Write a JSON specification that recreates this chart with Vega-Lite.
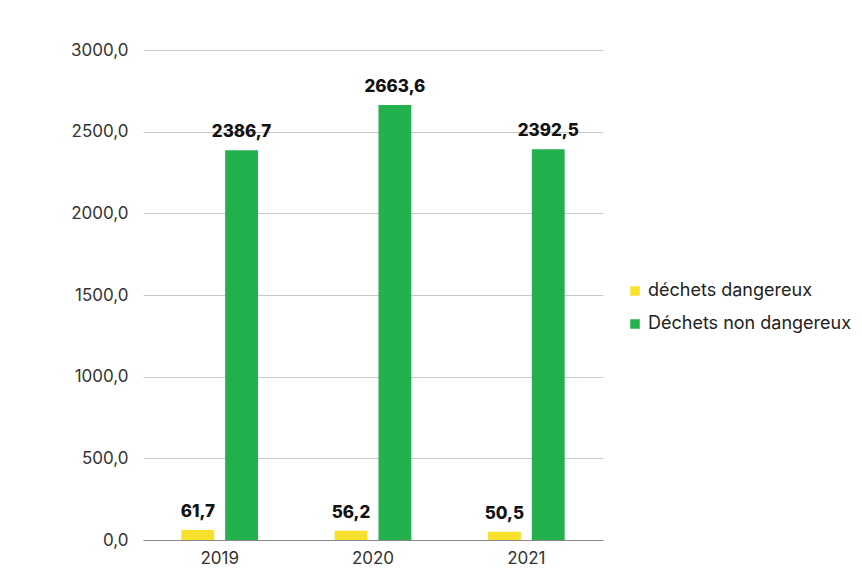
{
  "$schema": "https://vega.github.io/schema/vega-lite/v6.json",
  "autosize": {"type": "none"},
  "width": 460,
  "height": 490,
  "padding": {"left": 143, "top": 50, "right": 259, "bottom": 34},
  "background": "white",
  "config": {"view": {"stroke": null}, "font": "Inter",
    "locale": {"number": {"decimal": ",", "thousands": "\u00a0", "grouping": [3], "currency": ["", " €"]}}},
  "data": {"values": [
    {"annee": "2019", "type": "déchets dangereux", "valeur": 61.7},
    {"annee": "2019", "type": "Déchets non dangereux", "valeur": 2386.7},
    {"annee": "2020", "type": "déchets dangereux", "valeur": 56.2},
    {"annee": "2020", "type": "Déchets non dangereux", "valeur": 2663.6},
    {"annee": "2021", "type": "déchets dangereux", "valeur": 50.5},
    {"annee": "2021", "type": "Déchets non dangereux", "valeur": 2392.5}
  ]},
  "encoding": {
    "x": {"field": "annee", "type": "nominal", "title": null,
      "scale": {"paddingInner": 0.5, "paddingOuter": 0.25},
      "axis": {"labelAngle": 0, "labelFontSize": 17, "labelColor": "#333", "labelPadding": 10, "ticks": false, "domainColor": "#888", "domainWidth": 1.2}},
    "xOffset": {"field": "type", "type": "nominal", "sort": ["déchets dangereux", "Déchets non dangereux"], "scale": {"paddingInner": 0.25}},
    "y": {"field": "valeur", "type": "quantitative", "title": null,
      "scale": {"domain": [0, 3000]},
      "axis": {"values": [0, 500, 1000, 1500, 2000, 2500, 3000], "format": ".1f", "labelFontSize": 17, "labelColor": "#333", "labelPadding": 15, "ticks": false, "domain": false, "gridColor": "#c8c8c8", "gridWidth": 1}}
  },
  "layer": [
    {"mark": {"type": "bar"},
     "encoding": {"color": {"field": "type", "type": "nominal", "sort": ["déchets dangereux", "Déchets non dangereux"],
       "scale": {"domain": ["déchets dangereux", "Déchets non dangereux"], "range": ["#f7e12d", "#22b14c"]},
       "legend": {"title": null, "orient": "none", "legendX": 483, "legendY": 232, "labelFontSize": 18, "labelColor": "#222", "labelLimit": 400, "symbolType": "square", "symbolSize": 90, "rowPadding": 15, "labelOffset": 4}}}},
    {"mark": {"type": "text", "baseline": "bottom", "dy": -9, "fontSize": 17, "fontWeight": 800, "color": "#111"},
     "encoding": {"text": {"field": "valeur", "type": "quantitative", "format": ".1f"}}}
  ]
}
